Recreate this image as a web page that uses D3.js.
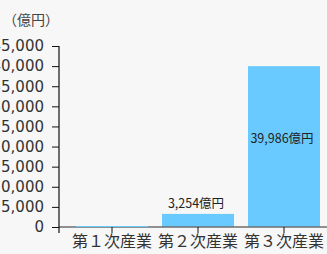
<!DOCTYPE html>
<html>
<head>
<meta charset="utf-8">
<script src="https://cdn.jsdelivr.net/npm/d3@7"></script>
<style>
  body { margin: 0; background: #f7f7f7; }
  svg { display: block; font-family: "Noto Sans CJK JP", "Noto Sans", sans-serif; }
</style>
</head>
<body>
<div id="chart"></div>
<script>
const categories = ["第１次産業", "第２次産業", "第３次産業"];
const values = [150, 3254, 39986];
const valueLabels = [null, "3,254億円", "39,986億円"];
const yTicks = [0, 5000, 10000, 15000, 20000, 25000, 30000, 35000, 40000, 45000];
const unitLabel = "（億円）";

const W = 327, H = 254;
const margin = { top: 46, left: 59, bottom: 27, right: 0 };

const svg = d3.select("#chart").append("svg")
  .attr("width", W)
  .attr("height", H);

const y = d3.scaleLinear()
  .domain([0, 45000])
  .range([H - margin.bottom, margin.top]);

const x = d3.scaleBand()
  .domain(categories)
  .range([69, 327])
  .paddingInner(0.163)
  .paddingOuter(0.0815);

const rows = categories.map((c, i) => ({ cat: c, value: values[i], label: valueLabels[i] }));

// bars
svg.append("g")
  .selectAll("rect")
  .data(rows)
  .join("rect")
  .attr("x", d => x(d.cat))
  .attr("y", d => y(d.value))
  .attr("width", x.bandwidth())
  .attr("height", d => y(0) - y(d.value))
  .attr("fill", "#68caff");

// baseline
svg.append("line")
  .attr("x1", margin.left)
  .attr("x2", W)
  .attr("y1", y(0))
  .attr("y2", y(0))
  .attr("stroke", "#6e6e6e")
  .attr("stroke-width", 1.5);

// tiny first bar stays visible over the baseline
svg.append("rect")
  .attr("x", x(categories[0]))
  .attr("y", y(0) - 1)
  .attr("width", x.bandwidth())
  .attr("height", 1)
  .attr("fill", "#68caff");

// x axis
const xAxis = svg.append("g")
  .attr("transform", `translate(0,${y(0)})`)
  .call(d3.axisBottom(x).tickSize(6).tickSizeOuter(0).tickPadding(3));
xAxis.select(".domain").remove();
xAxis.selectAll(".tick line").attr("stroke", "#111");
xAxis.selectAll(".tick text")
  .attr("font-size", "16px")
  .attr("fill", "#333")
  .attr("font-family", "'Noto Sans CJK JP', sans-serif");

// y axis
const yAxis = svg.append("g")
  .attr("transform", `translate(${margin.left},0)`)
  .call(d3.axisLeft(y).tickValues(yTicks).tickSize(7).tickPadding(8)
    .tickFormat(d3.format(",")));
yAxis.select(".domain").remove();
yAxis.selectAll(".tick line").attr("stroke", "#111");
yAxis.selectAll(".tick text")
  .attr("font-size", "15px")
  .attr("fill", "#333")
  .attr("font-family", "'DejaVu Sans', sans-serif");

svg.append("line")
  .attr("x1", margin.left)
  .attr("x2", margin.left)
  .attr("y1", y(45000))
  .attr("y2", y(0) + 6)
  .attr("stroke", "#111")
  .attr("stroke-width", 1.2);

// unit label
svg.append("text")
  .attr("x", 31)
  .attr("y", 25)
  .attr("text-anchor", "middle")
  .attr("font-size", "14px")
  .attr("fill", "#444")
  .text(unitLabel);

// value labels
svg.append("g")
  .selectAll("text")
  .data(rows.filter(d => d.label))
  .join("text")
  .attr("x", d => x(d.cat) + x.bandwidth() / 2 - 2)
  .attr("y", d => d.value > 20000 ? y(d.value * 0.55) + 4 : y(d.value) - 6)
  .attr("text-anchor", "middle")
  .attr("font-size", "12.5px")
  .attr("fill", "#222")
  .text(d => d.label);
</script>
</body>
</html>
